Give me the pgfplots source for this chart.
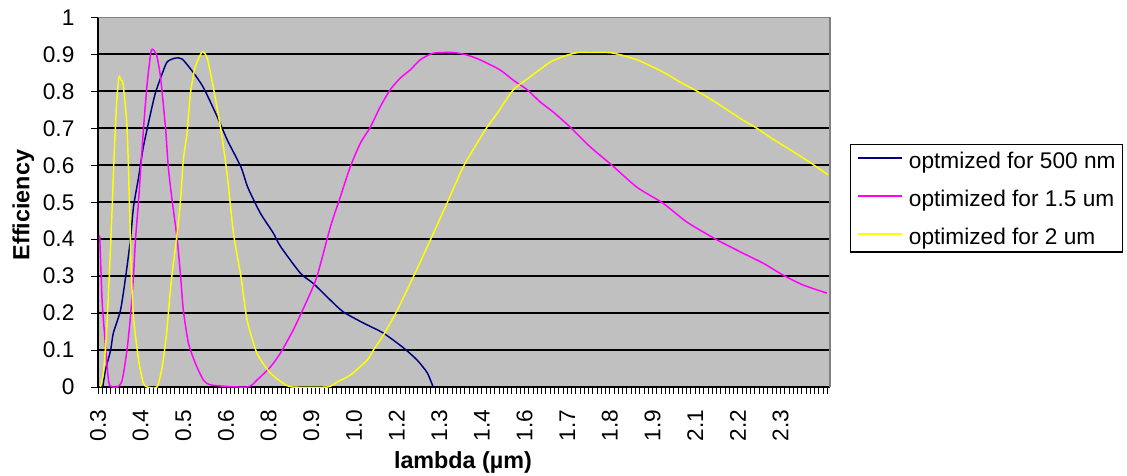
\documentclass[border=0pt]{standalone}
\usepackage{fontspec}
\setmainfont{Liberation Sans}
\usepackage{pgfplots}
\pgfplotsset{compat=1.18}
\definecolor{bggray}{HTML}{C0C0C0}
\definecolor{navyc}{HTML}{000080}
\definecolor{magc}{HTML}{FF00FF}
\definecolor{yelc}{HTML}{FFFF00}
\definecolor{bordergray}{HTML}{808080}
\begin{document}
\begin{tikzpicture}
\useasboundingbox (0,0) rectangle (845.25pt,356.25pt);
\begin{axis}[
  at={(73.5pt,66pt)}, anchor=south west,
  scale only axis, width=549pt, height=277.2pt,
  xmin=0.3, xmax=2.445, ymin=0, ymax=1,
  axis lines*=left,
  axis line style={black, line width=1.1pt},
  axis background/.style={fill=bggray},
  tick align=outside,
  major tick length=5pt, minor tick length=5pt,
  every tick/.style={black, line width=0.7pt},
  xtick={0.3,0.425,0.55,0.675,0.8,0.925,1.05,1.175,1.3,1.425,1.55,1.675,1.8,1.925,2.05,2.175,2.3},
  xticklabels={0.3,0.4,0.5,0.6,0.8,0.9,1.0,1.2,1.3,1.4,1.6,1.7,1.8,1.9,2.1,2.2,2.3},
  minor xtick={0.3,0.3125,...,2.445},
  ytick={0,0.1,0.2,0.3,0.4,0.5,0.6,0.7,0.8,0.9,1},
  yticklabels={0,0.1,0.2,0.3,0.4,0.5,0.6,0.7,0.8,0.9,1},
  extra y ticks={0.1,0.2,0.3,0.4,0.5,0.6,0.7,0.8,0.9},
  extra y tick labels={},
  extra y tick style={grid=major, major tick length=0pt},
  grid style={black, line width=1.3pt},
  tick label style={font=\fontsize{17}{19}\selectfont},
  xticklabel style={rotate=90, anchor=east, inner sep=0pt},
  xticklabel shift=12pt,
  yticklabel style={inner sep=0pt},
  yticklabel shift=12.5pt,
  xlabel={lambda (µm)}, ylabel={Efficiency},
  label style={font=\bfseries\fontsize{17.5}{20}\selectfont},
  xlabel style={at={(rel axis cs:0.4986,-0.203)}, anchor=center},
  ylabel style={at={(rel axis cs:-0.102,0.4924)}, anchor=center, rotate=0},
  legend style={at={(rel axis cs:1.0273,0.6575)}, anchor=north west, draw=black, line width=1pt, fill=white,
    font=\fontsize{17}{19}\selectfont, inner xsep=5pt, inner ysep=1.5pt, row sep=8pt, column sep=4.5pt,
    nodes={inner sep=0pt, text height=16.5pt, text depth=4pt}},
  legend cell align=left,
  legend image code/.code={\draw[#1, line width=1.2pt] (0pt,1.75pt) -- (33pt,1.75pt);},
  after end axis/.code={\draw[bordergray, line width=1pt] (rel axis cs:0,1) -- (rel axis cs:1,1) -- (rel axis cs:1,0);},
]
\addplot[navyc, line width=1.1pt, smooth, tension=0.4] coordinates {
(0.314,0.0)(0.322,0.046)(0.337,0.10)(0.345,0.146)(0.366,0.208)(0.381,0.298)(0.395,0.398)
(0.404,0.487)(0.419,0.568)(0.433,0.65)(0.454,0.74)(0.468,0.795)(0.489,0.85)(0.503,0.88)
(0.527,0.89)(0.547,0.887)(0.580,0.85)(0.609,0.81)(0.650,0.73)(0.679,0.668)(0.719,0.595)
(0.739,0.54)(0.776,0.47)(0.814,0.416)(0.835,0.38)(0.893,0.308)(0.931,0.28)(0.981,0.235)
(1.019,0.203)(1.078,0.173)(1.136,0.146)(1.195,0.106)(1.235,0.073)(1.265,0.038)(1.282,0.0)
};
\addlegendentry{optmized for 500 nm}
\addplot[magc, line width=1.1pt, smooth, tension=0.4] coordinates {
(0.305,0.41)(0.312,0.235)(0.319,0.146)(0.327,0.054)(0.334,0.005)(0.357,0.0)(0.371,0.019)
(0.385,0.1)(0.395,0.19)(0.404,0.30)(0.410,0.40)(0.419,0.506)(0.427,0.614)(0.435,0.72)
(0.444,0.82)(0.454,0.90)(0.459,0.914)(0.471,0.90)(0.483,0.84)(0.498,0.70)(0.506,0.595)
(0.517,0.506)(0.532,0.40)(0.542,0.30)(0.550,0.208)(0.565,0.119)(0.585,0.065)(0.609,0.019)
(0.634,0.005)(0.737,0.0)(0.766,0.019)(0.805,0.054)(0.834,0.091)(0.872,0.154)(0.913,0.235)
(0.942,0.30)(0.981,0.433)(1.010,0.514)(1.039,0.595)(1.069,0.66)(1.098,0.703)(1.127,0.758)
(1.156,0.804)(1.186,0.836)(1.215,0.858)(1.244,0.885)(1.282,0.903)(1.341,0.905)(1.382,0.898)
(1.420,0.885)(1.478,0.858)(1.517,0.83)(1.558,0.804)(1.596,0.771)(1.634,0.744)(1.684,0.703)
(1.742,0.65)(1.806,0.60)(1.880,0.54)(1.956,0.497)(2.026,0.446)(2.114,0.398)(2.190,0.362)
(2.249,0.335)(2.307,0.303)(2.366,0.276)(2.436,0.254)
};
\addlegendentry{optimized for 1.5 um}
\addplot[yelc, line width=1.1pt, smooth, tension=0.4] coordinates {
(0.307,0.0)(0.316,0.04)(0.325,0.15)(0.333,0.30)(0.340,0.45)(0.347,0.62)(0.354,0.76)
(0.360,0.83)(0.363,0.84)(0.368,0.83)(0.374,0.817)(0.385,0.703)(0.392,0.506)(0.397,0.325)
(0.404,0.19)(0.419,0.073)(0.433,0.01)(0.445,0.0)(0.473,0.0)(0.488,0.054)(0.501,0.146)
(0.514,0.28)(0.532,0.416)(0.542,0.506)(0.550,0.614)(0.561,0.687)(0.571,0.795)(0.585,0.866)
(0.605,0.906)(0.620,0.89)(0.638,0.81)(0.659,0.703)(0.678,0.579)(0.697,0.416)(0.719,0.298)
(0.737,0.181)(0.766,0.091)(0.805,0.038)(0.843,0.01)(0.870,0.0)(0.972,0.0)(1.001,0.014)
(1.039,0.032)(1.089,0.073)(1.107,0.1)(1.136,0.14)(1.177,0.208)(1.224,0.298)(1.274,0.398)
(1.323,0.498)(1.370,0.595)(1.411,0.66)(1.440,0.703)(1.470,0.741)(1.517,0.804)(1.566,0.839)
(1.625,0.879)(1.675,0.898)(1.707,0.905)(1.742,0.905)(1.806,0.904)(1.880,0.885)(1.956,0.852)
(2.006,0.825)(2.064,0.796)(2.114,0.768)(2.190,0.722)(2.231,0.70)(2.272,0.674)(2.330,0.641)
(2.389,0.606)(2.439,0.574)
};
\addlegendentry{optimized for 2 um}
\end{axis}
\end{tikzpicture}
\end{document}
